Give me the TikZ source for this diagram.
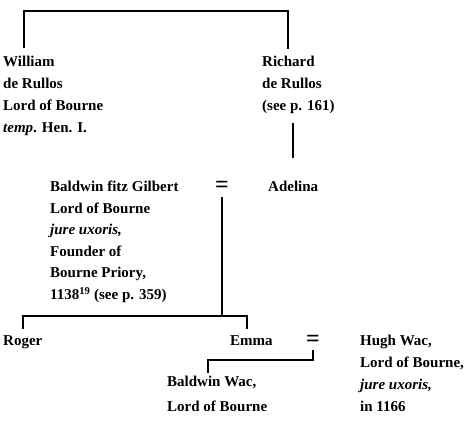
\documentclass[tikz,border=0pt]{standalone}
\usepackage{fontspec}
\setmainfont{Liberation Serif}
\usepackage{tikz}
\tikzstyle{person} = [anchor=north west, inner sep=0pt, align=left, font=\fontsize{15bp}{22bp}\selectfont\bfseries]
\tikzstyle{wed} = [inner sep=0pt, font=\fontsize{24bp}{24bp}\selectfont\bfseries]
\tikzstyle{line} = [line width=2bp]

\begin{document}
\begin{tikzpicture}[x=1bp, y=-1bp]
    \useasboundingbox (0,0) rectangle (470,420);

        % nodes
        \node (william) [person] at (3,56) {William\\de Rullos\\Lord of Bourne\\\textit{temp}. Hen. I.};
        \node (richard) [person] at (262,56) {Richard\\de Rullos\\(see p. 161)};
        \node (baldwin) [person, font=\fontsize{15bp}{21.5bp}\selectfont\bfseries] at (50,181) {Baldwin fitz Gilbert\\Lord of Bourne\\\textit{jure uxoris,}\\Founder of\\Bourne Priory,\\1138\textsuperscript{19} (see p. 359)};
        \node (wed1) [wed] at (222,187) {=};
        \node (adelina) [person] at (268,181) {Adelina};
        \node (roger) [person] at (3,335) {Roger};
        \node (emma) [person] at (230,335) {Emma};
        \node (wed2) [wed] at (313,341) {=};
        \node (hugh) [person] at (360,335) {Hugh Wac,\\Lord of Bourne,\\\textit{jure uxoris,}\\in 1166};
        \node (baldwinwac) [person, font=\fontsize{15bp}{25bp}\selectfont\bfseries] at (167,376) {Baldwin Wac,\\Lord of Bourne};
        \coordinate (kids1) at (222,316);
        \coordinate (kids2) at (313,360);

        % edges
        \draw [line] ([xshift=21bp, yshift=8bp]william.north west) -- ++(0,-37) -| ([xshift=26bp, yshift=7bp]richard.north west);
        \draw [line] (adelina.north) ++(0,-23) -- ++(0,-35);
        \draw [line] ([yshift=-10bp]wed1.center) -- (kids1);
        \draw [line] ([yshift=6bp]roger.north) |- (kids1) -| ([xshift=-4bp, yshift=6bp]emma.north);
        \draw [line] ([yshift=-9bp]wed2.center) -- (kids2) -| ([xshift=-9bp, yshift=3bp]baldwinwac.north);

\end{tikzpicture}
\end{document}
